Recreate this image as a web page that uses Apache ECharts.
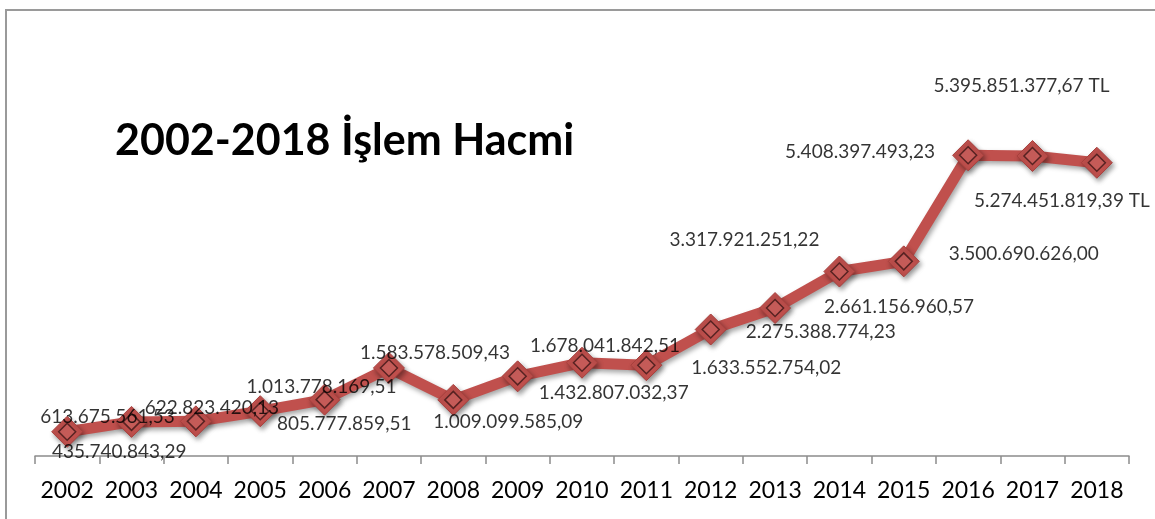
<!DOCTYPE html>
<html>
<head>
<meta charset="utf-8">
<script src="https://cdn.jsdelivr.net/npm/echarts@6/dist/echarts.min.js"></script>
<style>
  html, body { margin: 0; padding: 0; background: #fff; }
  #chart { width: 1155px; height: 519px; }
</style>
</head>
<body>
<div id="chart"></div>
<script>
// Yearly trading volume (TL)
const years = ['2002','2003','2004','2005','2006','2007','2008','2009','2010',
               '2011','2012','2013','2014','2015','2016','2017','2018'];
const volumes = [
  435740843.29, 613675561.53, 622823420.13, 805777859.51, 1013778169.51,
  1583578509.43, 1009099585.09, 1432807032.37, 1678041842.51, 1633552754.02,
  2275388774.23, 2661156960.57, 3317921251.22, 3500690626.00, 5408397493.23,
  5395851377.67, 5274451819.39
];
const labelSuffix = ['', '', '', '', '', '', '', '', '', '', '', '', '', '', '', ' TL', ' TL'];
const titleText = '2002-2018 İşlem Hacmi';

// label placement around each marker (dx, dy in px)
const labelOffsets = [
  [52, 20], [-24, -5], [16, -13], [84, 13], [-3, -13], [46, -15], [55, 22],
  [96, 17], [23, -17], [120, 3], [110, 2], [124, -1], [-95, -32], [120, -7],
  [-108, -3], [-11, -70], [-35, 38]
];

// Turkish number formatting: 1.234.567,89
function trFormat(v) {
  const cents = Math.round(v * 100);
  const intPart = Math.floor(cents / 100).toString();
  const frac = (cents % 100).toString().padStart(2, '0');
  return intPart.replace(/\B(?=(\d{3})+(?!\d))/g, '.') + ',' + frac;
}

const RED = '#c0504d';
const FONT = 'Lato, "Open Sans", sans-serif';

const chart = echarts.init(document.getElementById('chart'));

// inner diamonds carry the value labels so the text sits on top of the markers
const labeledData = volumes.map((v, i) => ({
  value: v,
  label: {
    show: true,
    position: 'inside',
    offset: labelOffsets[i],
    formatter: () => trFormat(v) + labelSuffix[i]
  }
}));

chart.setOption({
  animation: false,
  backgroundColor: '#fff',
  grid: { left: 35, right: 26, top: 122.4, bottom: 63 },
  graphic: [
    {
      type: 'rect', z: -1,
      shape: { x: 6, y: 10, width: 1300, height: 700 },
      style: { fill: 'none', stroke: '#9a9a9a', lineWidth: 2 }
    },
    {
      type: 'text', left: 115, top: 120, z: 10,
      style: { text: titleText, font: 'bold 43px ' + FONT, fill: '#000' }
    }
  ],
  xAxis: {
    type: 'category',
    data: years,
    boundaryGap: true,
    axisLine: { lineStyle: { color: '#8c8c8c', width: 1.5 } },
    axisTick: { show: true, interval: 0, length: 8, alignWithLabel: false, lineStyle: { color: '#8c8c8c', width: 1.5 } },
    axisLabel: { interval: 0, color: '#000', fontSize: 23, fontFamily: FONT, margin: 23 }
  },
  yAxis: {
    type: 'value',
    min: 0, max: 6000000000,
    show: false,
    splitLine: { show: false }
  },
  series: [
    {
      type: 'line',
      data: volumes,
      symbol: 'diamond',
      symbolSize: 31,
      lineStyle: {
        color: RED, width: 11,
        shadowColor: 'rgba(0,0,0,0.35)', shadowBlur: 5, shadowOffsetX: 2, shadowOffsetY: 3
      },
      itemStyle: {
        color: RED, borderColor: '#a8403d', borderWidth: 1,
        shadowColor: 'rgba(0,0,0,0.4)', shadowBlur: 5, shadowOffsetX: 2, shadowOffsetY: 3
      },
      z: 2
    },
    {
      type: 'scatter',
      data: labeledData,
      symbol: 'diamond',
      symbolSize: 17,
      itemStyle: { color: '#c55e5b', borderColor: '#3d1716', borderWidth: 1.5 },
      label: {
        color: '#000', fontSize: 19, fontFamily: FONT,
        textBorderWidth: 0, textShadowBlur: 0
      },
      silent: true,
      z: 3
    }
  ]
});
</script>
</body>
</html>
